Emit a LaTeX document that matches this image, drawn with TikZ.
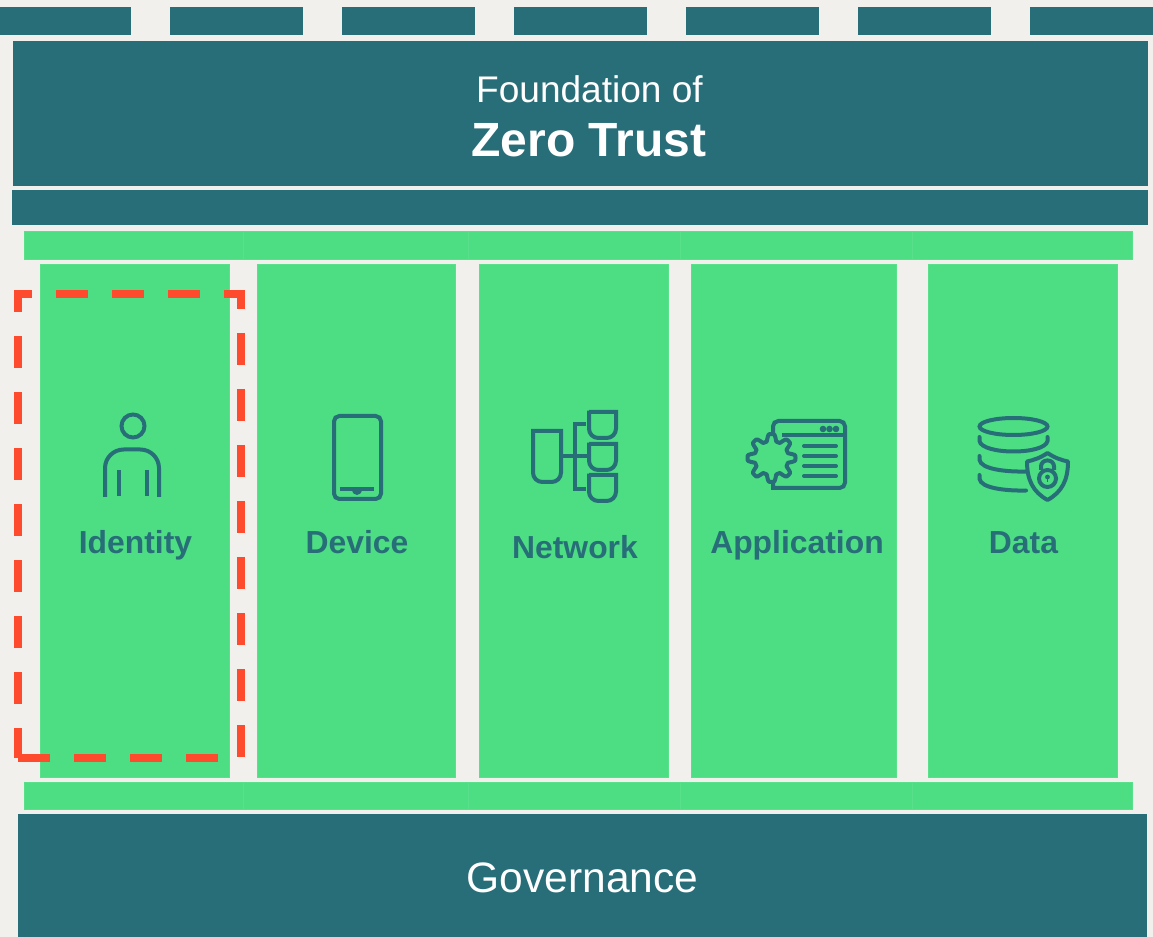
\documentclass[tikz,border=0pt]{standalone}
\usepackage{fontspec}
\setmainfont{Liberation Sans}
\definecolor{pagegrey}{HTML}{F2F0ED}
\definecolor{teal}{HTML}{286E78}
\definecolor{leaf}{HTML}{4DDE84}
\definecolor{seam}{HTML}{58E08B}
\definecolor{alert}{HTML}{FF4B2D}
\tikzset{
box/.style={anchor=north west,inner sep=0,outer sep=0,minimum width=#1},
tealbox/.style={box=#1,fill=teal},
leafbox/.style={box=#1,fill=leaf,draw=seam,line width=.3pt},
icon/.style={draw=teal,line width=3pt},
collabel/.style={anchor=base,text=teal,font=\fontsize{23.9}{28}\bfseries}
}
\begin{document}
\begin{tikzpicture}[x=.75pt,y=-.75pt]
\useasboundingbox[fill=pagegrey] (0,0) rectangle (1153,937);
% top strip
\foreach \n/\x/\w in {a/0/131,b/170/133,c/342/133,d/514/133,e/686/133,f/858/133,g/1030/123}{\node[tealbox=\w*.75pt,minimum height=21pt] (strip\n) at (\x,7) {};}
\node[tealbox=851.25pt,minimum height=108.75pt] (foundation) at (13,41) {};
\node[tealbox=852pt,minimum height=26.25pt] (band) at (12,190) {};
\node[tealbox=846.75pt,minimum height=92.25pt] (governance) at (18,814) {};
\node[anchor=base,text=white,font=\fontsize{27.8}{32}\selectfont] (foundtext) at (589.5,103) {Foundation of};
\node[anchor=base,text=white,font=\fontsize{36}{42}\bfseries] (zerotext) at (589,157) {Zero Trust};
\node[anchor=base,text=white,font=\fontsize{31.9}{36}\selectfont] (govtext) at (582.5,892) {Governance};
% green bars above and below the columns
\foreach \n/\x/\w in {a/24.5/218.5,b/243/225,c/468/212,d/680/232,e/912/220.5}{
\node[leafbox=\w*.75pt,minimum height=20.6pt] (upper\n) at (\x,231.5) {};
\node[leafbox=\w*.75pt,minimum height=20.6pt] (lower\n) at (\x,782) {};
}
% columns
\foreach \n/\x/\w in {identity/40/189.5,device/257/198.5,network/479/189.5,application/691/205.5,data/928/189.5}{\node[leafbox=\w*.75pt,minimum height=384.75pt] (\n) at (\x,264) {};}
\node[collabel] (identitytext) at (135.5,553) {Identity};
\node[collabel] (devicetext) at (357,553) {Device};
\node[collabel] (networktext) at (575,558) {Network};
\node[collabel] (applicationtext) at (797,553) {Application};
\node[collabel] (datatext) at (1023.5,553) {Data};
% person
\draw[icon] (133,426) circle (11.5);
\draw[icon,rounded corners=14pt] (105,497)--(105,449.5)--(159,449.5)--(159,497);
\draw[icon] (119,470)--(119,496) (146.5,470)--(146.5,496);
% phone
\draw[icon,rounded corners=4] (334,416) rectangle (381,499);
\draw[icon] (340,489.5)--(374,489.5);
\fill[teal] (352,489.5) .. controls (352,497) and (362,497) .. (362,489.5)--cycle;
% network
\draw[icon] (533,431)--(561,431)--(561,455)[rounded corners=7pt]--(561,482)--(533,482)--(533,455)[sharp corners]--cycle;
\draw[icon] (561,456)--(587,456);
\draw[icon] (586,424.5)--(575,424.5)--(575,489)--(586,489);
\foreach \y in {412,444,475}{\draw[icon] (589,\y)--(616,\y)--(616,\y+8)[rounded corners=7pt]--(616,\y+26)--(589,\y+26)--(589,\y+8)[sharp corners]--cycle;}
% application
\draw[icon,rounded corners=4pt] (773,433)--(773,421)--(845,421)--(845,488)--(790,488)[sharp corners]--(773,488)--(773,482);
\draw[icon] (782,435)--(845,435);
\foreach \x in {823,829.5,836}{\fill[teal] (\x,429) circle (3.3);}
\foreach \y in {446,456,466,476}{\draw[icon,line cap=round] (804,\y)--(836,\y);}
\draw[icon,line join=round] plot[smooth,samples=145,domain=0:360,variable=\t] ({771.5+(20.5+3.5*max(-1,min(1,1.6*cos(8*\t))))*cos(\t)},{458+(20.5+3.5*max(-1,min(1,1.6*cos(8*\t))))*sin(\t)})--cycle;
% database
\draw[icon] (1013.5,426.5) ellipse (34 and 8.5);
\draw[icon,line cap=round] (979.5,437)--(979.5,441) .. controls (982,455) and (1045,455) .. (1047.5,441)--(1047.5,437);
\draw[icon,line cap=round] (979.5,456)--(979.5,460) .. controls (981,469) and (1005,472) .. (1026,471.5);
\draw[icon,line cap=round] (979.5,475)--(979.5,479) .. controls (981,488) and (1005,491) .. (1026,490.5);
\draw[icon,line join=round] (1047.5,453) .. controls (1040,458) and (1034,460) .. (1027,461.5) .. controls (1027,480) and (1033,492) .. (1047.5,500) .. controls (1062,492) and (1068,480) .. (1068,461.5) .. controls (1061,460) and (1055,458) .. (1047.5,453)--cycle;
\draw[icon] (1047.5,478.5) circle (8.5);
\draw[icon,rounded corners=4.5pt] (1041,470)--(1041,460.5)--(1054,460.5)--(1054,470);
\fill[teal] (1047.5,477) circle (2.4);
\draw[teal,line width=1pt] (1047.5,477)--(1047.5,482);
% dashed frame
\draw[alert,line width=6pt,dash pattern=on 24pt off 18pt,dash phase=1.5pt] (18,758)--(18,294)--(241,294)--(241,758)--(18,758);
\end{tikzpicture}
\end{document}
